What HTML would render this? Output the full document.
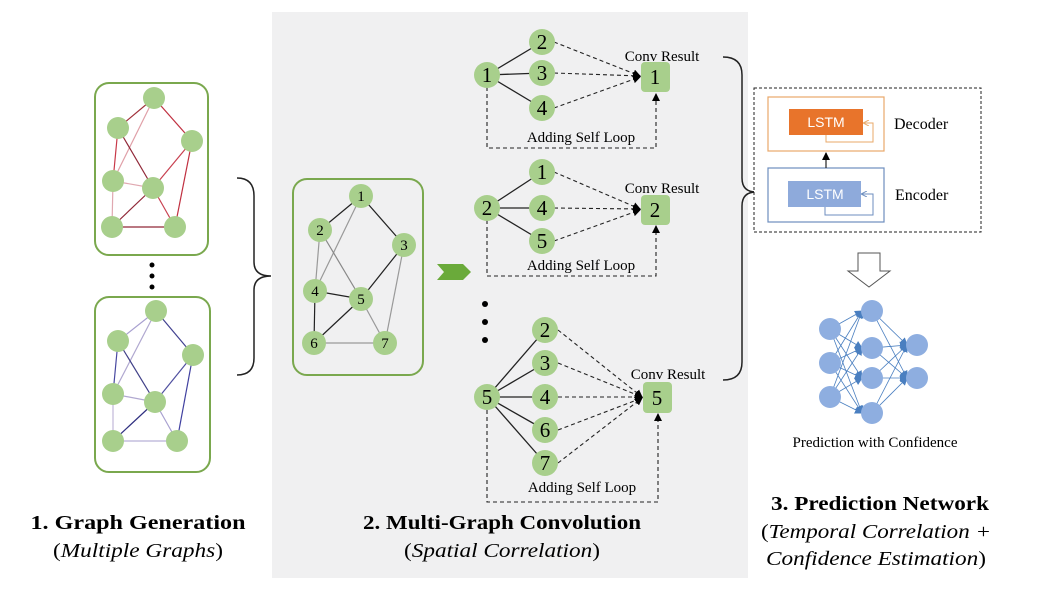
<!DOCTYPE html>
<html><head><meta charset="utf-8"><style>
html,body{margin:0;padding:0;background:#fff}
svg{display:block}
text{font-family:"Liberation Serif","Times New Roman",serif}
</style></head><body>
<svg width="1037" height="589" viewBox="0 0 1037 589" xmlns="http://www.w3.org/2000/svg">
<defs>
<marker id="ah" markerWidth="8" markerHeight="8" refX="7" refY="4" orient="auto" markerUnits="userSpaceOnUse"><path d="M0,0 L8,4 L0,8 z" fill="#000"/></marker>
<marker id="ab" markerWidth="8" markerHeight="8" refX="7" refY="4" orient="auto" markerUnits="userSpaceOnUse"><path d="M0,0 L8,4 L0,8 z" fill="#4a7fc0"/></marker>
<marker id="ao" markerWidth="6" markerHeight="6" refX="5" refY="3" orient="auto" markerUnits="userSpaceOnUse"><path d="M0,0 L6,3 L0,6" fill="none" stroke="#e8a86a"/></marker>
<marker id="ae" markerWidth="6" markerHeight="6" refX="5" refY="3" orient="auto" markerUnits="userSpaceOnUse"><path d="M0,0 L6,3 L0,6" fill="none" stroke="#6d8ebf"/></marker>
</defs>
<rect x="272" y="12" width="476" height="566" fill="#f0f0f1"/>

<!-- left top graph -->
<rect x="95" y="83" width="113" height="172" rx="14" fill="#fff" stroke="#7aa84e" stroke-width="2"/>
<g stroke-width="1.2">
<line x1="154" y1="98" x2="118" y2="128" stroke="#a0303a"/>
<line x1="154" y1="98" x2="113" y2="181" stroke="#e0a0a8"/>
<line x1="154" y1="98" x2="192" y2="141" stroke="#c03040"/>
<line x1="118" y1="128" x2="113" y2="181" stroke="#c83848"/>
<line x1="118" y1="128" x2="153" y2="188" stroke="#902838"/>
<line x1="192" y1="141" x2="153" y2="188" stroke="#c84050"/>
<line x1="192" y1="141" x2="175" y2="227" stroke="#c03040"/>
<line x1="113" y1="181" x2="153" y2="188" stroke="#e0a8b0"/>
<line x1="113" y1="181" x2="112" y2="227" stroke="#e0a8b0"/>
<line x1="153" y1="188" x2="112" y2="227" stroke="#902838"/>
<line x1="153" y1="188" x2="175" y2="227" stroke="#c84050"/>
<line x1="112" y1="227" x2="175" y2="227" stroke="#902838"/>
</g>
<g fill="#a8cf8c">
<circle cx="154" cy="98" r="11"/><circle cx="118" cy="128" r="11"/><circle cx="192" cy="141" r="11"/>
<circle cx="113" cy="181" r="11"/><circle cx="153" cy="188" r="11"/><circle cx="112" cy="227" r="11"/><circle cx="175" cy="227" r="11"/>
</g>
<g fill="#000"><circle cx="152" cy="265" r="2.5"/><circle cx="152" cy="276" r="2.5"/><circle cx="152" cy="287" r="2.5"/></g>

<!-- left bottom graph -->
<rect x="95" y="297" width="115" height="175" rx="14" fill="#fff" stroke="#7aa84e" stroke-width="2"/>
<g stroke-width="1.2">
<line x1="156" y1="311" x2="118" y2="341" stroke="#a8a0d0"/>
<line x1="156" y1="311" x2="113" y2="394" stroke="#b0a8d0"/>
<line x1="156" y1="311" x2="193" y2="355" stroke="#404090"/>
<line x1="118" y1="341" x2="113" y2="394" stroke="#4848a0"/>
<line x1="118" y1="341" x2="155" y2="402" stroke="#404088"/>
<line x1="193" y1="355" x2="155" y2="402" stroke="#5050a0"/>
<line x1="193" y1="355" x2="177" y2="441" stroke="#4040a0"/>
<line x1="113" y1="394" x2="155" y2="402" stroke="#b0a8d0"/>
<line x1="113" y1="394" x2="113" y2="441" stroke="#c0b8d8"/>
<line x1="155" y1="402" x2="113" y2="441" stroke="#303080"/>
<line x1="155" y1="402" x2="177" y2="441" stroke="#a8a0d0"/>
<line x1="113" y1="441" x2="177" y2="441" stroke="#b8b0d8"/>
</g>
<g fill="#a8cf8c">
<circle cx="156" cy="311" r="11"/><circle cx="118" cy="341" r="11"/><circle cx="193" cy="355" r="11"/>
<circle cx="113" cy="394" r="11"/><circle cx="155" cy="402" r="11"/><circle cx="113" cy="441" r="11"/><circle cx="177" cy="441" r="11"/>
</g>

<!-- left brace -->
<path d="M237,178 Q254,178 254,196 L254,262 Q254,276 271,276 Q254,276 254,290 L254,358 Q254,375 237,375" fill="none" stroke="#222" stroke-width="1.5"/>

<!-- middle graph -->
<rect x="293" y="179" width="130" height="196" rx="14" fill="#f0f0f1" stroke="#7aa84e" stroke-width="2"/>
<g stroke-width="1.2">
<line x1="361" y1="196" x2="320" y2="230" stroke="#222"/>
<line x1="361" y1="196" x2="315" y2="291" stroke="#999"/>
<line x1="361" y1="196" x2="404" y2="245" stroke="#222"/>
<line x1="320" y1="230" x2="315" y2="291" stroke="#999"/>
<line x1="320" y1="230" x2="361" y2="299" stroke="#888"/>
<line x1="404" y1="245" x2="361" y2="299" stroke="#222"/>
<line x1="404" y1="245" x2="385" y2="343" stroke="#999"/>
<line x1="315" y1="291" x2="361" y2="299" stroke="#222"/>
<line x1="315" y1="291" x2="314" y2="343" stroke="#222"/>
<line x1="361" y1="299" x2="314" y2="343" stroke="#222"/>
<line x1="361" y1="299" x2="385" y2="343" stroke="#999"/>
<line x1="314" y1="343" x2="385" y2="343" stroke="#999"/>
</g>
<g fill="#a8cf8c">
<circle cx="361" cy="196" r="12"/><circle cx="320" cy="230" r="12"/><circle cx="404" cy="245" r="12"/>
<circle cx="315" cy="291" r="12"/><circle cx="361" cy="299" r="12"/><circle cx="314" cy="343" r="12"/><circle cx="385" cy="343" r="12"/>
</g>
<g font-size="15" text-anchor="middle" fill="#000">
<text x="361" y="201">1</text><text x="320" y="235">2</text><text x="404" y="250">3</text>
<text x="315" y="296">4</text><text x="361" y="304">5</text><text x="314" y="348">6</text><text x="385" y="348">7</text>
</g>

<!-- chevron -->
<path d="M437,264 L463,264 L471,272 L463,280 L437,280 L444,272 z" fill="#6aaa3a"/>

<!-- ego graph 1 -->
<g stroke="#222" stroke-width="1.3">
<line x1="487" y1="75" x2="542" y2="42"/><line x1="487" y1="75" x2="542" y2="73"/><line x1="487" y1="75" x2="542" y2="108"/>
</g>
<g stroke="#222" stroke-width="1.1" stroke-dasharray="4,3" fill="none">
<line x1="554" y1="42" x2="640" y2="76" marker-end="url(#ah)"/>
<line x1="554" y1="73" x2="640" y2="76" marker-end="url(#ah)"/>
<line x1="554" y1="108" x2="640" y2="77" marker-end="url(#ah)"/>
<path d="M487,87 L487,148 L656,148 L656,94" marker-end="url(#ah)"/>
</g>
<g fill="#a8cf8c">
<circle cx="487" cy="75" r="13"/><circle cx="542" cy="42" r="13"/><circle cx="542" cy="73" r="13"/><circle cx="542" cy="108" r="13"/>
<rect x="641" y="62" width="29" height="30" rx="4"/>
</g>
<g font-size="21" text-anchor="middle">
<text x="487" y="82">1</text><text x="542" y="49">2</text><text x="542" y="80">3</text><text x="542" y="115">4</text><text x="655" y="84">1</text>
</g>
<text x="662" y="61" font-size="15" text-anchor="middle">Conv Result</text>
<text x="581" y="142" font-size="15" text-anchor="middle">Adding Self Loop</text>

<!-- ego graph 2 -->
<g stroke="#222" stroke-width="1.3">
<line x1="487" y1="208" x2="542" y2="172"/><line x1="487" y1="208" x2="542" y2="208"/><line x1="487" y1="208" x2="542" y2="241"/>
</g>
<g stroke="#222" stroke-width="1.1" stroke-dasharray="4,3" fill="none">
<line x1="554" y1="172" x2="640" y2="209" marker-end="url(#ah)"/>
<line x1="554" y1="208" x2="640" y2="209" marker-end="url(#ah)"/>
<line x1="554" y1="241" x2="640" y2="210" marker-end="url(#ah)"/>
<path d="M487,220 L487,276 L656,276 L656,226" marker-end="url(#ah)"/>
</g>
<g fill="#a8cf8c">
<circle cx="487" cy="208" r="13"/><circle cx="542" cy="172" r="13"/><circle cx="542" cy="208" r="13"/><circle cx="542" cy="241" r="13"/>
<rect x="641" y="195" width="29" height="30" rx="4"/>
</g>
<g font-size="21" text-anchor="middle">
<text x="487" y="215">2</text><text x="542" y="179">1</text><text x="542" y="215">4</text><text x="542" y="248">5</text><text x="655" y="217">2</text>
</g>
<text x="662" y="193" font-size="15" text-anchor="middle">Conv Result</text>
<text x="581" y="270" font-size="15" text-anchor="middle">Adding Self Loop</text>

<!-- dots -->
<g fill="#000"><circle cx="485" cy="304" r="3"/><circle cx="485" cy="322" r="3"/><circle cx="485" cy="340" r="3"/></g>

<!-- ego graph 3 -->
<g stroke="#222" stroke-width="1.3">
<line x1="487" y1="397" x2="545" y2="330"/><line x1="487" y1="397" x2="545" y2="363"/><line x1="487" y1="397" x2="545" y2="397"/>
<line x1="487" y1="397" x2="545" y2="430"/><line x1="487" y1="397" x2="545" y2="463"/>
</g>
<g stroke="#222" stroke-width="1.1" stroke-dasharray="4,3" fill="none">
<line x1="558" y1="330" x2="642" y2="397" marker-end="url(#ah)"/>
<line x1="558" y1="363" x2="642" y2="397" marker-end="url(#ah)"/>
<line x1="558" y1="397" x2="642" y2="397" marker-end="url(#ah)"/>
<line x1="558" y1="430" x2="642" y2="398" marker-end="url(#ah)"/>
<line x1="558" y1="463" x2="642" y2="398" marker-end="url(#ah)"/>
<path d="M487,410 L487,502 L658,502 L658,414" marker-end="url(#ah)"/>
</g>
<g fill="#a8cf8c">
<circle cx="487" cy="397" r="13"/><circle cx="545" cy="330" r="13"/><circle cx="545" cy="363" r="13"/><circle cx="545" cy="397" r="13"/><circle cx="545" cy="430" r="13"/><circle cx="545" cy="463" r="13"/>
<rect x="643" y="382" width="29" height="31" rx="4"/>
</g>
<g font-size="21" text-anchor="middle">
<text x="487" y="404">5</text><text x="545" y="337">2</text><text x="545" y="370">3</text><text x="545" y="404">4</text><text x="545" y="437">6</text><text x="545" y="470">7</text><text x="657" y="405">5</text>
</g>
<text x="668" y="379" font-size="15" text-anchor="middle">Conv Result</text>
<text x="582" y="492" font-size="15" text-anchor="middle">Adding Self Loop</text>

<!-- right brace -->
<path d="M723,57 Q742,57 742,75 L742,178 Q742,192 756,192 Q742,192 742,206 L742,362 Q742,380 723,380" fill="none" stroke="#222" stroke-width="1.5"/>

<!-- LSTM box -->
<rect x="754" y="88" width="227" height="144" fill="#fff" stroke="#222" stroke-width="1" stroke-dasharray="3,2"/>
<rect x="768" y="97" width="116" height="54" fill="#fff" stroke="#e8a86a" stroke-width="1.2"/>
<rect x="789" y="109" width="74" height="26" fill="#e8742b"/>
<text x="826" y="127" font-size="14" fill="#fff" text-anchor="middle" style="font-family:'Liberation Sans',sans-serif">LSTM</text>
<path d="M826,135 L826,142 L873,142 L873,123 L864,123" fill="none" stroke="#e8a86a" stroke-width="1" marker-end="url(#ao)"/>
<text x="894" y="129" font-size="16">Decoder</text>
<rect x="768" y="168" width="116" height="54" fill="#fff" stroke="#6d8ebf" stroke-width="1.2"/>
<rect x="788" y="181" width="73" height="26" fill="#8eaadb"/>
<text x="825" y="199" font-size="14" fill="#fff" text-anchor="middle" style="font-family:'Liberation Sans',sans-serif">LSTM</text>
<path d="M825,207 L825,215 L873,215 L873,194 L862,194" fill="none" stroke="#6d8ebf" stroke-width="1" marker-end="url(#ae)"/>
<text x="895" y="200" font-size="16">Encoder</text>
<line x1="826" y1="168" x2="826" y2="153" stroke="#222" stroke-width="1.2" marker-end="url(#ah)"/>

<!-- hollow arrow -->
<path d="M858,253 L880,253 L880,271 L890,271 L869,287 L848,271 L858,271 z" fill="#fff" stroke="#555" stroke-width="1"/>

<!-- NN -->
<g stroke="#4a7fc0" stroke-width="0.8" marker-end="url(#ab)">
<line x1="830" y1="329" x2="862" y2="311"/><line x1="830" y1="329" x2="862" y2="348"/><line x1="830" y1="329" x2="862" y2="378"/><line x1="830" y1="329" x2="862" y2="413"/>
<line x1="830" y1="363" x2="862" y2="311"/><line x1="830" y1="363" x2="862" y2="348"/><line x1="830" y1="363" x2="862" y2="378"/><line x1="830" y1="363" x2="862" y2="413"/>
<line x1="830" y1="397" x2="862" y2="311"/><line x1="830" y1="397" x2="862" y2="348"/><line x1="830" y1="397" x2="862" y2="378"/><line x1="830" y1="397" x2="862" y2="413"/>
<line x1="872" y1="311" x2="907" y2="345"/><line x1="872" y1="311" x2="907" y2="378"/>
<line x1="872" y1="348" x2="907" y2="345"/><line x1="872" y1="348" x2="907" y2="378"/>
<line x1="872" y1="378" x2="907" y2="345"/><line x1="872" y1="378" x2="907" y2="378"/>
<line x1="872" y1="413" x2="907" y2="345"/><line x1="872" y1="413" x2="907" y2="378"/>
</g>
<g fill="#8eaee0">
<circle cx="830" cy="329" r="11"/><circle cx="830" cy="363" r="11"/><circle cx="830" cy="397" r="11"/>
<circle cx="872" cy="311" r="11"/><circle cx="872" cy="348" r="11"/><circle cx="872" cy="378" r="11"/><circle cx="872" cy="413" r="11"/>
<circle cx="917" cy="345" r="11"/><circle cx="917" cy="378" r="11"/>
</g>
<text x="875" y="447" font-size="15" text-anchor="middle">Prediction with Confidence</text>

<!-- titles -->
<g font-size="20" text-anchor="middle">
<text x="138" y="529" font-weight="bold" textLength="215" lengthAdjust="spacingAndGlyphs">1.   Graph Generation</text>
<text x="138" y="557" font-style="italic" textLength="170" lengthAdjust="spacingAndGlyphs"><tspan font-style="normal">(</tspan>Multiple Graphs<tspan font-style="normal">)</tspan></text>
<text x="502" y="529" font-weight="bold" textLength="278" lengthAdjust="spacingAndGlyphs">2. Multi-Graph Convolution</text>
<text x="502" y="557" font-style="italic" textLength="196" lengthAdjust="spacingAndGlyphs"><tspan font-style="normal">(</tspan>Spatial Correlation<tspan font-style="normal">)</tspan></text>
<text x="880" y="510" font-weight="bold" textLength="218" lengthAdjust="spacingAndGlyphs">3. Prediction Network</text>
<text x="876" y="538" font-style="italic" textLength="230" lengthAdjust="spacingAndGlyphs"><tspan font-style="normal">(</tspan>Temporal Correlation +</text>
<text x="876" y="565" font-style="italic" textLength="220" lengthAdjust="spacingAndGlyphs">Confidence Estimation<tspan font-style="normal">)</tspan></text>
</g>
</svg>
</body></html>
